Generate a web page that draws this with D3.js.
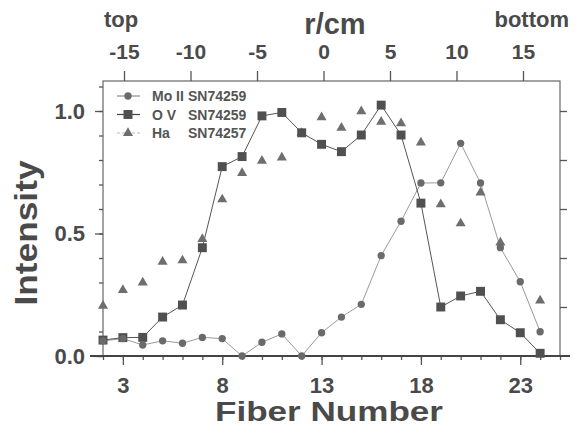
<!DOCTYPE html>
<html>
<head>
<meta charset="utf-8">
<script src="https://cdn.jsdelivr.net/npm/d3@7"></script>
<style>
  body { margin: 0; background: #fff; }
  svg text { font-family: "Liberation Sans", Arial, sans-serif; }
</style>
</head>
<body>
<script>
// fiber numbers and the three profiles
var fibers = [2, 3, 4, 5, 6, 7, 8, 9, 10, 11, 12, 13, 14, 15, 16, 17, 18, 19, 20, 21, 22, 23, 24];
var moII = [0.062, 0.071, 0.045, 0.062, 0.052, 0.076, 0.071, 0.0, 0.056, 0.09, 0.0, 0.095,
            0.159, 0.211, 0.41, 0.55, 0.706, 0.707, 0.868, 0.706, 0.442, 0.303, 0.099];
var oV = [0.065, 0.075, 0.076, 0.159, 0.208, 0.442, 0.773, 0.814, 0.98, 0.994, 0.911, 0.864,
          0.834, 0.902, 1.024, 0.902, 0.624, 0.2, 0.245, 0.264, 0.148, 0.095, 0.011];
var haFibers = [2, 3, 4, 5, 6, 7, 8, 9, 10, 11, 12, 13, 14, 15, 16, 17, 18, 19, 20, 21, 22, 24];
var ha = [0.205, 0.269, 0.3, 0.384, 0.39, 0.477, 0.639, 0.747, 0.797, 0.81, 0.91, 0.974,
          0.931, 0.999, 0.956, 0.95, 0.871, 0.619, 0.541, 0.667, 0.463, 0.226];

var fiberTicks = [3, 8, 13, 18, 23];
var radiusTicks = [-15, -10, -5, 0, 5, 10, 15];
var intensityTicks = [0.0, 0.5, 1.0];
var legendNames = ["Mo II", "O V", "Ha"];
var legendShots = ["SN74259", "SN74259", "SN74257"];

var width = 578, height = 429;
var plot = { left: 103, right: 560, top: 81, bottom: 356 };
var ink = "#4a4a4a";

var svg = d3.select("body").append("svg")
    .attr("width", width).attr("height", height);

var xscale = d3.scaleLinear().domain([2, 25]).range([plot.left, plot.right]);
var yscale = d3.scaleLinear().domain([0, 1]).range([plot.bottom, plot.bottom - 245]);
var rscale = d3.scaleLinear().domain([-15, 15]).range([124, 523]);

// frame
svg.append("rect")
   .attr("x", plot.left).attr("y", plot.top)
   .attr("width", plot.right - plot.left).attr("height", plot.bottom - plot.top)
   .attr("fill", "none").attr("stroke", "#666").attr("stroke-width", 1.2);

// bottom axis: major ticks labelled, minor tick on each fiber
var xaxis = d3.axisBottom(xscale).tickValues(fiberTicks).tickSize(9).tickPadding(12)
    .tickFormat(function(d) { return String(d); });
var xminor = d3.axisBottom(xscale).tickValues(d3.range(2, 26)).tickSize(4).tickFormat("");
svg.append("g").attr("class", "xminor")
   .attr("transform", "translate(0," + plot.bottom + ")").call(xminor);
svg.append("g").attr("class", "xaxis")
   .attr("transform", "translate(0," + plot.bottom + ")").call(xaxis);

// left axis
var yaxis = d3.axisLeft(yscale).tickValues(intensityTicks).tickSize(8).tickPadding(10)
    .tickFormat(d3.format(".1f"));
var yminor = d3.axisLeft(yscale).tickValues(d3.range(0, 1.15, 0.1)).tickSize(4).tickFormat("");
svg.append("g").attr("class", "yminor")
   .attr("transform", "translate(" + plot.left + ",0)").call(yminor);
svg.append("g").attr("class", "yaxis")
   .attr("transform", "translate(" + plot.left + ",0)").call(yaxis);

// right axis, ticks only
var yright = d3.axisRight(yscale).tickValues([0.2, 0.4, 0.6, 0.8, 1.0]).tickSize(7).tickFormat("");
svg.append("g").attr("class", "yright")
   .attr("transform", "translate(" + plot.right + ",0)").call(yright);

// top axis in r/cm (plain hyphen for negatives, like the original)
var raxis = d3.axisTop(rscale).tickValues(radiusTicks).tickSize(10).tickPadding(12)
    .tickFormat(function(d) { return String(d); });
svg.append("g").attr("class", "raxis")
   .attr("transform", "translate(0," + plot.top + ")").call(raxis);

svg.selectAll(".domain").remove();
svg.selectAll(".tick line").attr("stroke", "#555").attr("stroke-width", 1.3);
svg.selectAll(".xaxis text, .yaxis text")
   .attr("fill", ink).style("font-size", "22px").style("font-weight", "bold");
svg.selectAll(".raxis text")
   .attr("fill", ink).style("font-size", "21px").style("font-weight", "bold");

// thick baseline a bit wider than the frame
svg.append("line")
   .attr("x1", plot.left - 13).attr("x2", plot.right + 10)
   .attr("y1", plot.bottom).attr("y2", plot.bottom)
   .attr("stroke", "#444").attr("stroke-width", 2.2);

// axis titles
svg.append("text")
   .attr("transform", "rotate(-90)")
   .attr("x", -233).attr("y", 37)
   .attr("text-anchor", "middle")
   .attr("textLength", 145).attr("lengthAdjust", "spacingAndGlyphs")
   .attr("fill", ink).style("font-size", "31px").style("font-weight", "bold")
   .text("Intensity");
svg.append("text")
   .attr("x", 329).attr("y", 421)
   .attr("text-anchor", "middle")
   .attr("textLength", 228).attr("lengthAdjust", "spacingAndGlyphs")
   .attr("fill", ink).style("font-size", "28px").style("font-weight", "bold")
   .text("Fiber Number");
svg.append("text")
   .attr("x", 335).attr("y", 34)
   .attr("text-anchor", "middle")
   .attr("fill", ink).style("font-size", "29px").style("font-weight", "bold")
   .text("r/cm");
svg.append("text")
   .attr("x", 104).attr("y", 27)
   .attr("fill", ink).style("font-size", "22px").style("font-weight", "bold")
   .text("top");
svg.append("text")
   .attr("x", 569).attr("y", 27)
   .attr("text-anchor", "end")
   .attr("fill", ink).style("font-size", "22px").style("font-weight", "bold")
   .text("bottom");

// series lines
var line = d3.line()
    .x(function(d) { return xscale(d[0]); })
    .y(function(d) { return yscale(d[1]); });

var moPts = fibers.map(function(f, i) { return [f, moII[i]]; });
var oPts = fibers.map(function(f, i) { return [f, oV[i]]; });
var haPts = haFibers.map(function(f, i) { return [f, ha[i]]; });

svg.append("path").datum(moPts).attr("d", line)
   .attr("fill", "none").attr("stroke", "#9a9a9a").attr("stroke-width", 1);
svg.append("path").datum(oPts).attr("d", line)
   .attr("fill", "none").attr("stroke", "#555").attr("stroke-width", 1);

// markers
var sym = {
  circle: d3.symbol().type(d3.symbolCircle).size(42),
  square: d3.symbol().type(d3.symbolSquare).size(80),
  triangle: d3.symbol().type(d3.symbolTriangle).size(44)
};

function drawmarks(points, shape, fill)
{
  svg.append("g").selectAll("path").data(points)
     .enter().append("path")
     .attr("transform", function(d) { return "translate(" + xscale(d[0]) + "," + yscale(d[1]) + ")"; })
     .attr("d", sym[shape])
     .attr("fill", fill);
}
drawmarks(haPts, "triangle", "#6e6e6e");
drawmarks(oPts, "square", "#505050");
drawmarks(moPts, "circle", "#6a6a6a");

// legend
var legend = svg.append("g").attr("class", "legend");
var legendShapes = ["circle", "square", "triangle"];
var legendFill = ["#6a6a6a", "#505050", "#6e6e6e"];
var legendStroke = ["#888", "#444", "#bbb"];
legendNames.forEach(function(name, i)
{
  var y = 96 + i * 18.5;
  legend.append("line")
        .attr("x1", 117).attr("x2", 140).attr("y1", y).attr("y2", y)
        .attr("stroke", legendStroke[i]).attr("stroke-width", 1.2)
        .attr("stroke-dasharray", i == 2 ? "3,2" : null);
  legend.append("path")
        .attr("transform", "translate(128," + y + ")")
        .attr("d", sym[legendShapes[i]])
        .attr("fill", legendFill[i]);
  legend.append("text")
        .attr("x", 152).attr("y", y + 5)
        .attr("fill", "#555").style("font-size", "14px").style("font-weight", "bold")
        .text(name);
  legend.append("text")
        .attr("x", 188).attr("y", y + 5)
        .attr("fill", "#555").style("font-size", "14px").style("font-weight", "bold")
        .text(legendShots[i]);
});
</script>
</body>
</html>
